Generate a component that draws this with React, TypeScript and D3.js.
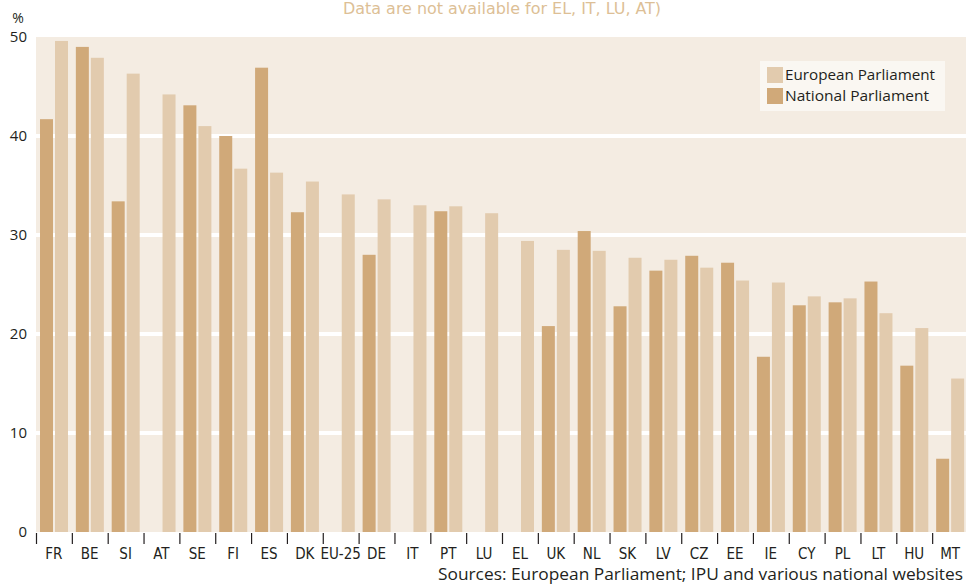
import React from "react";
import * as d3 from "d3";

const countries = ["FR","BE","SI","AT","SE","FI","ES","DK","EU-25","DE","IT","PT","LU","EL","UK","NL","SK","LV","CZ","EE","IE","CY","PL","LT","HU","MT"];
const national: (number | null)[] = [41.7,49.0,33.4,null,43.1,40.0,46.9,32.3,null,28.0,null,32.4,null,null,20.8,30.4,22.8,26.4,27.9,27.2,17.7,22.9,23.2,25.3,16.8,7.4];
const european: number[] = [49.6,47.9,46.3,44.2,41.0,36.7,36.3,35.4,34.1,33.6,33.0,32.9,32.2,29.4,28.5,28.4,27.7,27.5,26.7,25.4,25.2,23.8,23.6,22.1,20.6,15.5];
const yTicks = [0,10,20,30,40,50];
const gridTicks = [10,20,30,40];
const seriesKeys = ["National Parliament","European Parliament"];

const W = 966, H = 585;
const left = 36, right = 968, top = 37, bottom = 532;
const NAT = "#D0A979";
const EUR = "#E2CBAE";
const BG = "#F4ECE2";
const TXT = "#231F20";
const narrow = "'Liberation Sans Narrow', 'DejaVu Sans Condensed', 'Open Sans', sans-serif";
const reg = "'Open Sans', 'Noto Sans', sans-serif";

export default function App() {
  const x = d3.scaleBand().domain(countries).range([left, right]).paddingInner(0).paddingOuter(0);
  const x1 = d3.scaleBand().domain(seriesKeys).range([4, 32]).paddingInner(2 / 15);
  const y = d3.scaleLinear().domain([0, 50]).range([bottom, top]);
  const color = d3.scaleOrdinal<string, string>().domain(seriesKeys).range([NAT, EUR]);

  return (
    <svg width={W} height={H} style={{ position: "absolute", left: 0, top: 0, background: "#fff" }}>
      <text x={502} y={14} textAnchor="middle" fontFamily={narrow} fontSize={16} fill="#DDBF96" textLength={318} lengthAdjust="spacingAndGlyphs">
        Data are not available for EL, IT, LU, AT)
      </text>
      <rect x={left} y={top} width={W - left} height={bottom - top} fill={BG} />
      {gridTicks.map((t) => (
        <line key={t} x1={left} x2={W} y1={y(t)} y2={y(t)} stroke="#fff" strokeWidth={4} />
      ))}
      {countries.map((c, i) => (
        <g key={c} transform={`translate(${x(c)},0)`}>
          {national[i] != null && (
            <rect x={x1("National Parliament")} y={y(national[i] as number)} width={x1.bandwidth()} height={bottom - y(national[i] as number)} fill={color("National Parliament")} />
          )}
          <rect x={x1("European Parliament")} y={y(european[i])} width={x1.bandwidth()} height={bottom - y(european[i])} fill={color("European Parliament")} />
        </g>
      ))}
      {countries.map((c) => (
        <line key={"t" + c} x1={(x(c) as number) + 0.5} x2={(x(c) as number) + 0.5} y1={bottom + 1} y2={bottom + 12} stroke={TXT} strokeWidth={1.2} />
      ))}
      {countries.map((c) => (
        <text key={"l" + c} x={(x(c) as number) + x.bandwidth() / 2} y={559} textAnchor="middle" fontFamily={narrow} fontSize={15} fill={TXT}>
          {c}
        </text>
      ))}
      {yTicks.map((t) => (
        <text key={"y" + t} x={27} y={y(t)} dy="0.36em" textAnchor="end" fontFamily={reg} fontSize={15} fill={TXT}>
          {t}
        </text>
      ))}
      <text x={18} y={23} textAnchor="middle" fontFamily={reg} fontSize={14} fill={TXT}>%</text>
      <g>
        <rect x={760} y={61} width={185} height={50} fill="#FAF7F2" />
        {["European Parliament", "National Parliament"].map((k, i) => (
          <g key={k} transform={`translate(767,${67 + i * 21})`}>
            <rect width={16} height={16} fill={color(k)} />
            <text x={18} y={13} fontFamily={reg} fontSize={15} fill={TXT} textLength={i === 0 ? 150 : 144} lengthAdjust="spacingAndGlyphs">{k}</text>
          </g>
        ))}
      </g>
      <text x={963} y={580} textAnchor="end" fontFamily={reg} fontSize={16} fill={TXT} textLength={525} lengthAdjust="spacingAndGlyphs">
        Sources: European Parliament; IPU and various national websites
      </text>
    </svg>
  );
}
